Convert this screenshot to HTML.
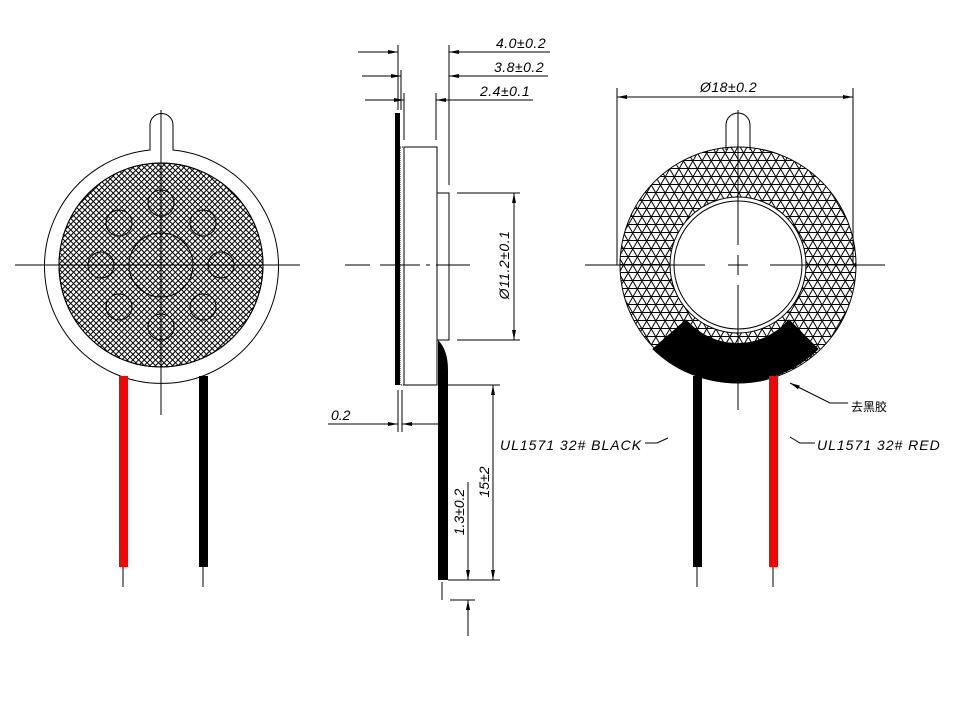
<!DOCTYPE html>
<html><head><meta charset="utf-8"><style>
html,body{margin:0;padding:0;background:#fff;}
svg{display:block;}
text{font-family:"Liberation Sans","Noto Sans CJK SC",sans-serif;font-style:italic;font-size:14px;fill:#000;}
</style></head><body>
<svg width="969" height="702" viewBox="0 0 969 702" xmlns="http://www.w3.org/2000/svg">
<defs>
<pattern id="h1" width="4" height="4" patternUnits="userSpaceOnUse" patternTransform="rotate(45)"><line x1="0" y1="0.5" x2="4" y2="0.5" stroke="#000" stroke-width="1"/></pattern>
<pattern id="h2" width="4" height="4" patternUnits="userSpaceOnUse" patternTransform="rotate(-45)"><line x1="0" y1="0.5" x2="4" y2="0.5" stroke="#000" stroke-width="1"/></pattern>
<pattern id="t0" width="10" height="8" patternUnits="userSpaceOnUse"><line x1="0" y1="0.5" x2="10" y2="0.5" stroke="#000" stroke-width="1"/></pattern>
<pattern id="t1" width="10" height="8" patternUnits="userSpaceOnUse" patternTransform="rotate(60)"><line x1="0" y1="0.5" x2="10" y2="0.5" stroke="#000" stroke-width="1"/></pattern>
<pattern id="t2" width="10" height="8" patternUnits="userSpaceOnUse" patternTransform="rotate(-60)"><line x1="0" y1="0.5" x2="10" y2="0.5" stroke="#000" stroke-width="1"/></pattern>
<marker id="ar" viewBox="0 0 10 6" refX="10" refY="3" markerWidth="10" markerHeight="6" markerUnits="userSpaceOnUse" orient="auto"><path d="M0,1 L10,3 L0,5 Z" fill="#000"/></marker>
</defs>
<g stroke="#000" fill="none" stroke-width="1">
<path d="M150,150 L150,125 A11.5,11.5 0 0 1 173,125 L173,150 A117,117 0 1 1 150,150 Z" fill="#fff"/>
<circle cx="161" cy="265" r="102" fill="url(#h1)"/>
<circle cx="161" cy="265" r="102" fill="url(#h2)"/>
<circle cx="161" cy="265" r="32"/>
<circle cx="161" cy="203" r="13"/><circle cx="161" cy="327" r="13"/>
<circle cx="101" cy="265" r="13"/><circle cx="221" cy="265" r="13"/>
<circle cx="119" cy="223" r="13"/><circle cx="203" cy="223" r="13"/>
<circle cx="119" cy="307" r="13"/><circle cx="203" cy="307" r="13"/>
<line x1="15" y1="265" x2="300" y2="265"/>
<line x1="161" y1="110" x2="161" y2="415"/>
<rect x="119" y="376" width="9" height="191" fill="#f00" stroke="none"/>
<rect x="199" y="376" width="9" height="191" fill="#000" stroke="none"/>
<line x1="123" y1="567" x2="123" y2="587"/><line x1="203" y1="567" x2="203" y2="587"/>

<rect x="395" y="113" width="5" height="272" fill="#000" stroke="none"/>
<rect x="400" y="147" width="4" height="238" stroke-dasharray="1 1"/>
<rect x="404" y="147" width="33" height="238"/>
<rect x="437" y="193" width="12" height="147"/>
<path d="M438,340 Q448,350 448,370 L448,580 L438,580 Z" fill="#000" stroke="none"/>
<line x1="345" y1="265" x2="370" y2="265"/><line x1="380" y1="265" x2="470" y2="265" stroke-dasharray="40 6 4 6"/>
<line x1="398" y1="45" x2="398" y2="110"/><line x1="401" y1="70" x2="401" y2="110"/><line x1="404" y1="93" x2="404" y2="140"/>
<line x1="449" y1="45" x2="449" y2="185"/><line x1="436" y1="93" x2="436" y2="140"/>
<line x1="358" y1="52" x2="398" y2="52" marker-end="url(#ar)"/>
<line x1="550" y1="52" x2="449" y2="52" marker-end="url(#ar)"/>
<line x1="362" y1="76" x2="401" y2="76" marker-end="url(#ar)"/>
<line x1="548" y1="76" x2="449" y2="76" marker-end="url(#ar)"/>
<line x1="365" y1="100" x2="404" y2="100" marker-end="url(#ar)"/>
<line x1="533" y1="100" x2="436" y2="100" marker-end="url(#ar)"/>
<line x1="457" y1="193" x2="520" y2="193"/><line x1="457" y1="340" x2="520" y2="340"/>
<line x1="514" y1="265" x2="514" y2="193" marker-end="url(#ar)"/>
<line x1="514" y1="265" x2="514" y2="340" marker-end="url(#ar)"/>
<line x1="398" y1="390" x2="398" y2="432"/><line x1="402" y1="390" x2="402" y2="432"/>
<line x1="328" y1="424" x2="398" y2="424" marker-end="url(#ar)"/>
<line x1="438" y1="424" x2="402" y2="424" marker-end="url(#ar)"/>
<line x1="448" y1="385" x2="500" y2="385"/><line x1="448" y1="580" x2="500" y2="580"/>
<line x1="493" y1="480" x2="493" y2="385" marker-end="url(#ar)"/>
<line x1="493" y1="480" x2="493" y2="580" marker-end="url(#ar)"/>
<line x1="468" y1="482" x2="468" y2="580" marker-end="url(#ar)"/>
<line x1="442" y1="582" x2="442" y2="600"/>
<line x1="450" y1="600" x2="475" y2="600"/>
<line x1="468" y1="636" x2="468" y2="600" marker-end="url(#ar)"/>
<path d="M645,443 L657,443 L668,438"/>
<path d="M790,437 L800,443 L815,443"/>

<path d="M726,150 L726,125 A12,12 0 0 1 750,125 L750,150" fill="#fff"/>
<path fill-rule="evenodd" d="M738,147 A118,118 0 1 1 737.9,147 Z M738,197 A68,68 0 1 0 738.1,197 Z" fill="url(#t0)" stroke="none"/>
<path fill-rule="evenodd" d="M738,147 A118,118 0 1 1 737.9,147 Z M738,197 A68,68 0 1 0 738.1,197 Z" fill="url(#t1)" stroke="none"/>
<path fill-rule="evenodd" d="M738,147 A118,118 0 1 1 737.9,147 Z M738,197 A68,68 0 1 0 738.1,197 Z" fill="url(#t2)" stroke="none"/>
<circle cx="738" cy="265" r="118"/>
<circle cx="738" cy="265" r="68" fill="#fff"/>
<circle cx="738" cy="265" r="64"/>
<path d="M653,349 L686,320 A68,68 0 0 0 789,320 L818,349 A118,118 0 0 1 653,349 Z" fill="#000" stroke="#000"/>
<line x1="585" y1="265" x2="705" y2="265"/><line x1="728" y1="265" x2="748" y2="265"/><line x1="770" y1="265" x2="885" y2="265"/>
<line x1="738" y1="110" x2="738" y2="245"/><line x1="738" y1="255" x2="738" y2="275"/><line x1="738" y1="285" x2="738" y2="410"/>
<rect x="693" y="376" width="9" height="191" fill="#000" stroke="none"/>
<rect x="769" y="376" width="9" height="191" fill="#f00" stroke="none"/>
<line x1="697" y1="567" x2="697" y2="587"/><line x1="773" y1="567" x2="773" y2="587"/>
<line x1="617" y1="88" x2="617" y2="265"/><line x1="853" y1="88" x2="853" y2="265"/>
<line x1="735" y1="97" x2="617" y2="97" marker-end="url(#ar)"/>
<line x1="735" y1="97" x2="853" y2="97" marker-end="url(#ar)"/>
<path d="M848,403 L830,403 L790,383" marker-end="url(#ar)"/>
</g>
<text x="496" y="48" style="letter-spacing:0.5px">4.0±0.2</text>
<text x="494" y="72" style="letter-spacing:0.5px">3.8±0.2</text>
<text x="480" y="96" style="letter-spacing:0.5px">2.4±0.1</text>
<text x="331" y="420">0.2</text>
<text x="700" y="92" style="letter-spacing:0.5px">Ø18±0.2</text>
<text transform="translate(509,265) rotate(-90)" text-anchor="middle" style="letter-spacing:0.5px">Ø11.2±0.1</text>
<text transform="translate(489,482) rotate(-90)" text-anchor="middle">15±2</text>
<text transform="translate(464,512) rotate(-90)" text-anchor="middle">1.3±0.2</text>
<text x="500" y="450" style="letter-spacing:1px">UL1571 32# BLACK</text>
<text x="817" y="450" style="letter-spacing:1px">UL1571 32# RED</text>
<text x="851" y="411" style="font-style:normal;font-size:12px">去黑胶</text>
</svg>
</body></html>
